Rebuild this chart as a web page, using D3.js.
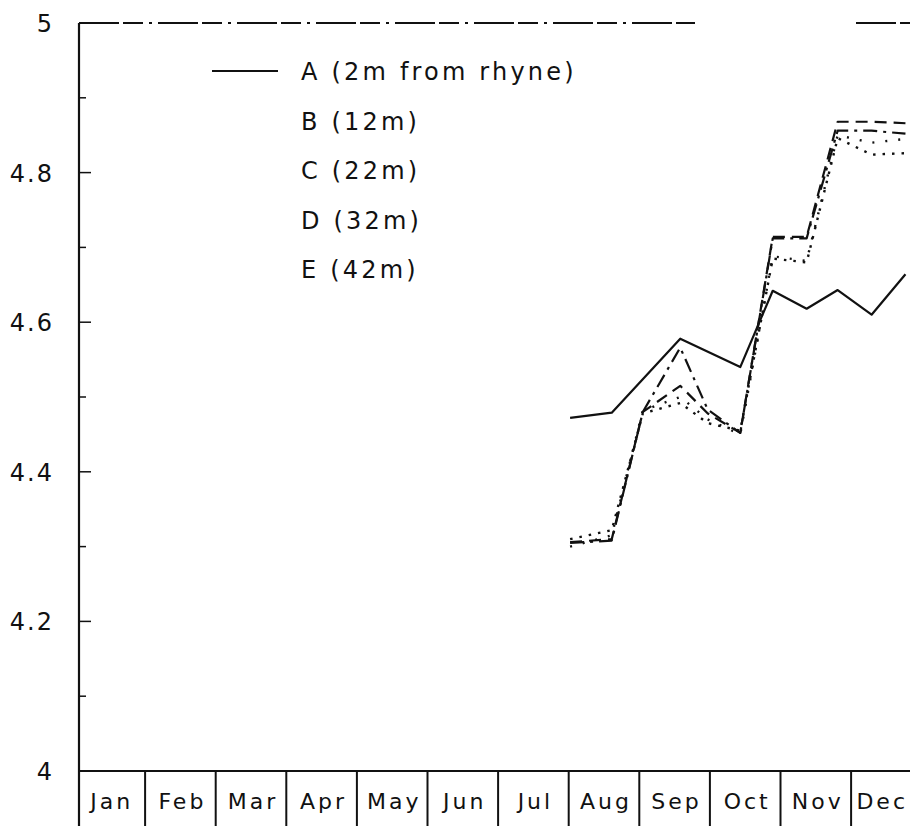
<!DOCTYPE html>
<html>
<head>
<meta charset="utf-8">
<script src="https://cdn.jsdelivr.net/npm/d3@7"></script>
<style>
  html, body { margin: 0; padding: 0; background: #fff; }
  svg { display: block; }
  text { font-family: "DejaVu Sans", sans-serif; fill: #111; }
</style>
</head>
<body>
<svg id="chart" width="910" height="826"></svg>
<script>
// ---- data ----
const months = ["Jan","Feb","Mar","Apr","May","Jun","Jul","Aug","Sep","Oct","Nov","Dec"];
const yTicksMajor = [4, 4.2, 4.4, 4.6, 4.8, 5];
const yTicksMinor = [4.1, 4.3, 4.5, 4.7, 4.9];
const yTickLabels = ["4", "4.2", "4.4", "4.6", "4.8", "5"];

// sampling times, in months from 1 Jan (fractional)
const sampleMonthsA  = [7.02, 7.61, 8.58, 9.43, 9.89, 10.37, 10.81, 11.29, 11.77];
const sampleMonthsBE = [7.02, 7.61, 8.05, 8.58, 8.97, 9.43, 9.89, 10.37, 10.81, 11.29, 11.77];

const valuesA = [4.472, 4.479, 4.578, 4.540, 4.642, 4.618, 4.643, 4.610, 4.664];
const valuesB = [4.306, 4.310, 4.480, 4.515, 4.478, 4.452, 4.714, 4.714, 4.868, 4.868, 4.866];
const valuesC = [4.305, 4.308, 4.480, 4.566, 4.483, 4.452, 4.712, 4.712, 4.856, 4.856, 4.852];
const valuesD = [4.310, 4.322, 4.478, 4.492, 4.465, 4.455, 4.685, 4.680, 4.846, 4.824, 4.826];
const valuesE = [4.300, 4.315, 4.482, 4.500, 4.470, 4.450, 4.688, 4.682, 4.850, 4.840, 4.845];

const seriesNames = ["A (2m from rhyne)", "B (12m)", "C (22m)", "D (32m)", "E (42m)"];

// ---- layout ----
const svg = d3.select("#chart");
const W = 910;
const axisX = 79, topY = 23, baseY = 771, bottomY = 826;
const monthRange = [74.5, 74.5 + 12 * 70.6];

const y = d3.scaleLinear().domain([4, 5]).range([baseY, topY]);
const xm = d3.scaleLinear().domain([0, 12]).range(monthRange);
const xb = d3.scaleBand().domain(months).range(monthRange);

svg.append("rect").attr("width", W).attr("height", 826).attr("fill", "#fff");

// top frame (broken, as in the scan)
const topSegs = [[axisX, 695], [856, W]];
svg.selectAll("line.top").data(topSegs).enter().append("line")
  .attr("x1", d => d[0]).attr("x2", d => d[1])
  .attr("y1", topY).attr("y2", topY)
  .attr("stroke", "#111").attr("stroke-width", 1.8)
  .attr("stroke-dasharray", "40,4,20,6,3,6");

// left axis
svg.append("line").attr("x1", axisX).attr("x2", axisX)
  .attr("y1", topY).attr("y2", bottomY)
  .attr("stroke", "#111").attr("stroke-width", 2.2);

// bottom axis
svg.append("line").attr("x1", axisX).attr("x2", W)
  .attr("y1", baseY).attr("y2", baseY)
  .attr("stroke", "#111").attr("stroke-width", 2.2);

// y ticks (inside)
svg.selectAll("line.ymaj").data(yTicksMajor.slice(1, 5)).enter().append("line")
  .attr("x1", axisX).attr("x2", axisX + 12)
  .attr("y1", d => y(d)).attr("y2", d => y(d))
  .attr("stroke", "#111").attr("stroke-width", 1.5);
svg.selectAll("line.ymin").data(yTicksMinor).enter().append("line")
  .attr("x1", axisX).attr("x2", axisX + 7)
  .attr("y1", d => y(d)).attr("y2", d => y(d))
  .attr("stroke", "#111").attr("stroke-width", 1.5);

// y tick labels
svg.selectAll("text.ylab").data(yTicksMajor).enter().append("text")
  .attr("x", 54).attr("y", d => y(d) + 9)
  .attr("text-anchor", "end")
  .attr("font-size", 24).attr("letter-spacing", 2)
  .text((d, i) => yTickLabels[i]);

// month cells
svg.selectAll("line.mdiv").data(months.slice(1)).enter().append("line")
  .attr("x1", d => xb(d)).attr("x2", d => xb(d))
  .attr("y1", baseY).attr("y2", bottomY)
  .attr("stroke", "#111").attr("stroke-width", 2);
const mlabs = svg.selectAll("text.mlab").data(months).enter().append("text")
  .attr("x", d => xb(d) + xb.bandwidth() / 2 + 2)
  .attr("y", 809)
  .attr("text-anchor", "middle")
  .attr("font-size", 22).attr("letter-spacing", 3)
  .text(d => d);
// keep the last label inside the picture
mlabs.each(function () {
  const bb = this.getBBox();
  if (bb.x + bb.width > W - 2) {
    const cx = +d3.select(this).attr("x");
    d3.select(this).attr("x", cx - (bb.x + bb.width - (W - 2)));
  }
});

// series lines
const line = d3.line().x(d => xm(d[0])).y(d => y(d[1]));
const series = [
  { months: sampleMonthsA,  values: valuesA, dash: null,        w: 2.2 },
  { months: sampleMonthsBE, values: valuesB, dash: "12,7",      w: 2.2 },
  { months: sampleMonthsBE, values: valuesC, dash: "14,6,3,6",  w: 2.2 },
  { months: sampleMonthsBE, values: valuesD, dash: "2.5,7",     w: 2.4 },
  { months: sampleMonthsBE, values: valuesE, dash: "2,11",      w: 2.4 }
];
svg.selectAll("path.series").data(series).enter().append("path")
  .attr("d", s => line(s.months.map((m, i) => [m, s.values[i]])))
  .attr("fill", "none").attr("stroke", "#111")
  .attr("stroke-width", s => s.w)
  .attr("stroke-linejoin", "round")
  .attr("stroke-dasharray", s => s.dash);

// legend
svg.append("line").attr("x1", 212).attr("x2", 278).attr("y1", 71).attr("y2", 71)
  .attr("stroke", "#111").attr("stroke-width", 2);
svg.selectAll("text.leg").data(seriesNames).enter().append("text")
  .attr("x", 301).attr("y", (d, i) => 80 + i * 49.5)
  .attr("font-size", 24).attr("letter-spacing", 3.2)
  .text(d => d);
</script>
</body>
</html>
